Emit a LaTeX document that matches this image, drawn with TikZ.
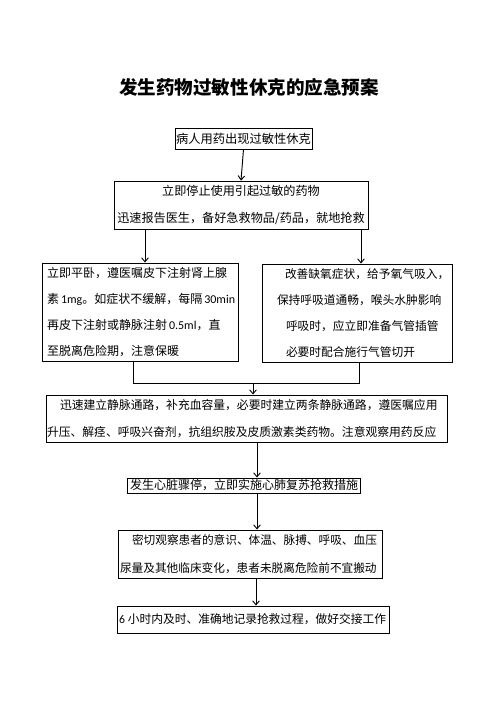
\documentclass[tikz,border=0pt]{standalone}
\usepackage{fontspec}
\setmainfont{Noto Sans CJK SC}
\newfontfamily\lat{Carlito}
\usetikzlibrary{arrows.meta}
\newdimen\px \px=0.75pt
\begin{document}
\begin{tikzpicture}[x=0.75pt,y=-0.75pt,
  box/.style={draw, line width=0.7pt, rectangle, inner ysep=0pt, align=left},
  conn/.style={line width=0.7pt},
  arr/.style={conn,-{Straight Barb[length=3pt,width=5pt]}}]
\useasboundingbox (0,0) rectangle (502,711);
\fill[white] (0,0) rectangle (502,711);

\node[font=\fontsize{13.9}{16}\selectfont\bfseries] (title) at (249,87) {发生药物过敏性休克的应急预案};

\node[box, align=center, minimum width=137\px, minimum height=21\px, text width=135\px, inner xsep=1\px,
  font=\fontsize{9.2}{12}\selectfont] (b1) at (243.5,138.5) {病人用药出现过敏性休克};

\node[box, align=center, minimum width=254\px, minimum height=48\px, text width=250\px, inner xsep=2\px,
  font=\fontsize{9.1}{20.25}\selectfont] (b2) at (241,205) {立即停止使用引起过敏的药物\\迅速报告医生，备好急救物品/药品，就地抢救};

\node[box, minimum width=196\px, minimum height=98\px, text width=186\px, inner xsep=5\px,
  font=\fontsize{9.0}{19.3}\selectfont] (b3) at (140,312)
  {立即平卧，遵医嘱皮下注射肾上腺\\\mbox{素\hspace{2\px}{\lat 1mg}。如症状不缓解，每隔\hspace{2\px}{\lat 30min}}\\\mbox{再皮下注射或静脉注射\hspace{2\px}{\lat 0.5ml}，直}\\至脱离危险期，注意保暖};

\node[box, minimum width=190\px, minimum height=98\px, text width=160\px, inner xsep=15\px,
  font=\fontsize{8.8}{19.3}\selectfont] (b4) at (357,313)
  {\hspace*{8\px}改善缺氧症状，给予氧气吸入，\\保持呼吸道通畅，喉头水肿影响\\\hspace*{9\px}呼吸时，应立即准备气管插管\\\hspace*{9\px}必要时配合施行气管切开};

\node[box, minimum width=401\px, minimum height=47\px, text width=399\px, inner xsep=1\px,
  font=\fontsize{8.85}{20.25}\selectfont] (b5) at (246.5,418.5)
  {\hspace*{13\px}迅速建立静脉通路，补充血容量，必要时建立两条静脉通路，遵医嘱应用\\升压、解痉、呼吸兴奋剂，抗组织胺及皮质激素类药物。注意观察用药反应};

\node[box, minimum width=233\px, minimum height=15\px, text width=227\px, inner xsep=3\px,
  font=\fontsize{9}{11}\selectfont] (b6) at (243.5,485.5) {发生心脏骤停，立即实施心肺复苏抢救措施};

\node[box, minimum width=264\px, minimum height=48\px, text width=260\px, inner xsep=2\px,
  font=\fontsize{8.75}{21}\selectfont] (b7) at (250,554)
  {\hspace*{12\px}密切观察患者的意识、体温、脉搏、呼吸、血压\\尿量及其他临床变化，患者未脱离危险前不宜搬动};

\node[box, minimum width=272\px, minimum height=27\px, text width=268\px, inner xsep=2\px,
  font=\fontsize{8.8}{12}\selectfont] (b8) at (253,619.5)
  {\mbox{{\lat 6}\hspace{3\px}小时内及时、准确地记录抢救过程，做好交接工作}};

\coordinate (xL) at (145,0);
\coordinate (xR) at (361,0);
\coordinate (jL) at (133,383);
\coordinate (jR) at (359,383);
\coordinate (jM) at (253,383);
\coordinate (xA) at (257,0);
\coordinate (xB) at (256,0);

\draw[arr] (b1.south) -- (b2.north);
\draw[arr] (b2.south -| xL) -- (b3.north -| xL);
\draw[arr] (b2.south -| xR) -- (b4.north -| xR);
\draw[conn] (b3.south -| jL) -- (jL) -- (jR) -- (b4.south -| jR);
\draw[arr] (jM) -- (b5.north -| jM);
\draw[arr] (b5.south -| xA) -- (b6.north -| xA);
\draw[arr] (b6.south -| xA) -- (b7.north -| xA);
\draw[arr] (b7.south -| xB) -- (b8.north -| xB);
\end{tikzpicture}
\end{document}
